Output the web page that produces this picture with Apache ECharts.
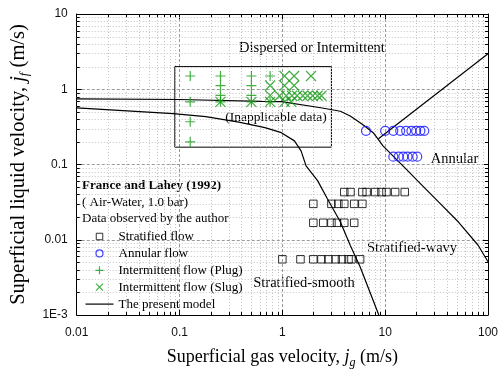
<!DOCTYPE html>
<html><head><meta charset="utf-8">
<script src="https://cdn.jsdelivr.net/npm/echarts@6/dist/echarts.min.js"></script>
<style>html,body{margin:0;padding:0;background:#fff}#c{width:501px;height:374px}</style>
</head><body><div id="c"></div>
<script>
// ---- data ----
const xTickLabels = ['0.01', '0.1', '1', '10', '100'];
const yTickLabels = ['1E-3', '0.01', '0.1', '1', '10'];

const stratX = [4, 4.6, 6, 6.6, 8, 9.2, 10.3, 12.5, 15.5,
                2, 3, 3.5, 4, 5, 6,
                2, 2.5, 3, 3.4, 4, 5,
                1, 1.5, 2, 2.4, 2.8, 3.3, 3.8, 4.4, 4.7, 5.7];
const stratY = [0.043, 0.043, 0.043, 0.043, 0.043, 0.043, 0.043, 0.043, 0.043,
                0.030, 0.030, 0.030, 0.030, 0.030, 0.030,
                0.0168, 0.0168, 0.0168, 0.0168, 0.0168, 0.0168,
                0.0055, 0.0055, 0.0055, 0.0055, 0.0055, 0.0055, 0.0055, 0.0055, 0.0055, 0.0055];

const annX = [6.5, 10, 12, 14, 16, 18, 20, 22, 24, 12, 13.5, 15, 16.5, 18.5, 20.5];
const annY = [0.28, 0.28, 0.28, 0.28, 0.28, 0.28, 0.28, 0.28, 0.28, 0.127, 0.127, 0.127, 0.127, 0.127, 0.127];

const plugX = [0.127, 0.127, 0.127, 0.127, 0.25, 0.25, 0.25, 0.25, 0.5, 0.5, 0.5, 0.5, 0.76, 0.76];
const plugY = [1.5, 0.68, 0.37, 0.2, 1.5, 1.12, 0.83, 0.68, 1.5, 1.12, 0.83, 0.68, 1.5, 0.68];

const slugX = [0.25, 0.5, 0.76, 0.76, 0.76, 1.05, 1.3, 1.9, 1.05, 1.3,
               0.94, 1.09, 1.24, 1.39, 1.58, 1.76, 1.97, 2.2, 2.4, 1.05, 1.22];
const slugY = [0.68, 0.68, 0.68, 1.12, 0.83, 1.5, 1.5, 1.5, 1.12, 1.12,
               0.82, 0.82, 0.82, 0.82, 0.82, 0.82, 0.82, 0.82, 0.82, 0.68, 0.68];

const upperX = [0.01, 0.099, 0.63, 0.977, 2.36, 3.67, 4.57, 6.13, 7.65, 8.53, 9.52, 11.9, 16, 21.4, 33.2, 51.6, 80.2, 100];
const upperY = [0.746, 0.731, 0.689, 0.683, 0.568, 0.51, 0.44, 0.335, 0.265, 0.217, 0.177, 0.130, 0.087, 0.058, 0.0316, 0.0172, 0.00845, 0.0051];

const branchX = [8.6, 100];
const branchY = [0.22, 2.96];

const lowerX = [0.01, 0.0867, 0.18, 0.377, 0.677, 0.977, 1.31, 1.52, 1.70, 2.20, 2.74, 3.67, 4.57, 5.70, 8.67];
const lowerY = [0.567, 0.473, 0.432, 0.366, 0.309, 0.265, 0.206, 0.152, 0.096, 0.061, 0.035, 0.0172, 0.00843, 0.00437, 0.001];

const boxX = [0.09, 3];
const boxY = [0.17, 2];

// ---- helpers ----
const zip = (a, b) => a.map((v, i) => [v, b[i]]);
const xDecades = [-2, -1, 0, 1];
const yDecades = [-3, -2, -1, 0];
const minorXs = [], minorYs = [];
xDecades.forEach(d => { for (let k = 2; k <= 9; k++) minorXs.push([k * Math.pow(10, d), 1]); });
yDecades.forEach(d => { for (let k = 2; k <= 9; k++) minorYs.push([1, k * Math.pow(10, d)]); });

const SERIF = '"Liberation Serif","Times New Roman",serif';
const SANS = '"Liberation Sans",Arial,sans-serif';
const green = '#169b16';
const blue = '#1010ff';

const PLUS = 'path://M0,5L10,5M5,0L5,10';
const CROSS = 'path://M0,0L10,10M10,0L0,10';

// legend icons (28x10 box, explicit bounds)
const IC_SQ = 'path://M0,0M28,10M10.75,1.75h6.5v6.5h-6.5z';
const IC_CI = 'path://M0,0M28,10M17.5,5A3.5,3.5,0,1,1,10.5,5A3.5,3.5,0,1,1,17.5,5z';
const IC_PL = 'path://M0,0M28,10M10,5h8M14,1v8';
const IC_X = 'path://M0,0M28,10M10.5,1.5L17.5,8.5M17.5,1.5L10.5,8.5';
const IC_LN = 'path://M0,0M28,10M0,5h28';

function labelFmt(arr, offset) {
  return v => { const i = Math.round(Math.log10(v)) + offset; return arr[i] || ''; };
}

const chart = echarts.init(document.getElementById('c'), null, {renderer: 'canvas'});

const crisp = v => Math.round(v) + 0.5;

function minorXItem(params, api) {
  const x = api.value(0);
  const pb = api.coord([x, 0.001]);
  const pt = api.coord([x, 10]);
  const px = crisp(pb[0]);
  return {type: 'group', children: [
    {type: 'line', shape: {x1: px, y1: pb[1], x2: px, y2: pt[1]}, style: {stroke: '#c4c4c4', lineWidth: 1, lineDash: [1, 2]}},
    {type: 'line', shape: {x1: px, y1: pb[1], x2: px, y2: pb[1] - 3}, style: {stroke: '#000', lineWidth: 1}},
    {type: 'line', shape: {x1: px, y1: pt[1], x2: px, y2: pt[1] + 3}, style: {stroke: '#000', lineWidth: 1}}
  ]};
}
function minorYItem(params, api) {
  const y = api.value(1);
  const pl = api.coord([0.01, y]);
  const pr = api.coord([100, y]);
  const py = crisp(pl[1]);
  return {type: 'group', children: [
    {type: 'line', shape: {x1: pl[0], y1: py, x2: pr[0], y2: py}, style: {stroke: '#c4c4c4', lineWidth: 1, lineDash: [1, 2]}},
    {type: 'line', shape: {x1: pl[0], y1: py, x2: pl[0] + 3, y2: py}, style: {stroke: '#000', lineWidth: 1}},
    {type: 'line', shape: {x1: pr[0], y1: py, x2: pr[0] - 3, y2: py}, style: {stroke: '#000', lineWidth: 1}}
  ]};
}

const axisCommon = {
  type: 'log', logBase: 10,
  axisLine: {show: true, onZero: false, lineStyle: {color: '#000', width: 1}},
  axisTick: {show: true, inside: true, length: 5, lineStyle: {color: '#000'}},
  minorTick: {show: false},
};

const lineStyleModel = {color: '#000', width: 1.2};

const option = {
  animation: false,
  backgroundColor: '#fff',
  grid: {left: 72, right: 11, top: 14, bottom: 57, containLabel: false},
  xAxis: [
    Object.assign({}, axisCommon, {
      min: 0.01, max: 100, position: 'bottom',
      axisLabel: {formatter: labelFmt(xTickLabels, 2), fontFamily: SANS, fontSize: 12, color: '#111', margin: 12},
      splitLine: {show: true, lineStyle: {color: '#9a9a9a', type: [3, 2], width: 1}},
      name: '{a|Superficial gas velocity, }{i|j}{s|g}{a| (m/s)}',
      nameLocation: 'middle', nameGap: 30,
      nameTextStyle: {rich: {
        a: {fontFamily: SERIF, fontSize: 18, color: '#000'},
        i: {fontFamily: SERIF, fontSize: 18, fontStyle: 'italic', color: '#000'},
        s: {fontFamily: SERIF, fontSize: 12, fontStyle: 'italic', color: '#000', padding: [12, 0, 0, 0]}
      }}
    }),
    Object.assign({}, axisCommon, {
      min: 0.01, max: 100, position: 'top',
      axisLabel: {show: false}, splitLine: {show: false}
    })
  ],
  yAxis: [
    Object.assign({}, axisCommon, {
      min: 0.001, max: 10, position: 'left',
      axisLabel: {formatter: labelFmt(yTickLabels, 3), fontFamily: SANS, fontSize: 12, color: '#111', margin: 9},
      splitLine: {show: true, lineStyle: {color: '#9a9a9a', type: [3, 2], width: 1}},
      name: '{a|Superficial liquid velocity, }{i|j}{s|f}{a| (m/s)}',
      nameLocation: 'middle', nameGap: 42, nameRotate: 90,
      nameTextStyle: {rich: {
        a: {fontFamily: SERIF, fontSize: 20.5, color: '#000'},
        i: {fontFamily: SERIF, fontSize: 20.5, fontStyle: 'italic', color: '#000'},
        s: {fontFamily: SERIF, fontSize: 13, fontStyle: 'italic', color: '#000', padding: [13, 0, 0, 0]}
      }}
    }),
    Object.assign({}, axisCommon, {
      min: 0.001, max: 10, position: 'right',
      axisLabel: {show: false}, splitLine: {show: false}
    })
  ],
  legend: {
    orient: 'vertical', left: 83, top: 229, padding: 0,
    itemWidth: 28, itemHeight: 10, itemGap: 1.9,
    textStyle: {fontFamily: SERIF, fontSize: 13, color: '#000'},
    data: [
      {name: 'Stratified flow', icon: IC_SQ, itemStyle: {color: 'none', borderColor: '#000', borderWidth: 1}},
      {name: 'Annular flow', icon: IC_CI, itemStyle: {color: 'none', borderColor: blue, borderWidth: 1.2}},
      {name: 'Intermittent flow (Plug)', icon: IC_PL, itemStyle: {color: 'none', borderColor: green, borderWidth: 1.2}},
      {name: 'Intermittent flow (Slug)', icon: IC_X, itemStyle: {color: 'none', borderColor: green, borderWidth: 1.2}},
      {name: 'The present model', icon: IC_LN, itemStyle: {color: 'none', borderColor: '#000', borderWidth: 1.2}}
    ]
  },
  graphic: [
    {type: 'text', left: 82, top: 179, style: {text: 'France and Lahey (1992)', font: 'bold 13px ' + SERIF, fill: '#000'}},
    {type: 'text', left: 82, top: 196, style: {text: '( Air-Water, 1.0 bar)', font: '13px ' + SERIF, fill: '#000'}},
    {type: 'text', left: 82, top: 212, style: {text: 'Data observed by the author', font: '13px ' + SERIF, fill: '#000'}},
    {type: 'text', x: 312, y: 48, style: {text: 'Dispersed or Intermittent', font: '14.5px ' + SERIF, fill: '#000', align: 'center', verticalAlign: 'middle'}},
    {type: 'text', x: 276, y: 117, style: {text: '(Inapplicable data)', font: '13.5px ' + SERIF, fill: '#000', align: 'center', verticalAlign: 'middle'}},
    {type: 'text', x: 454.5, y: 159, style: {text: 'Annular', font: '14.5px ' + SERIF, fill: '#000', align: 'center', verticalAlign: 'middle'}},
    {type: 'text', x: 412, y: 248, style: {text: 'Stratified-wavy', font: '14.5px ' + SERIF, fill: '#000', align: 'center', verticalAlign: 'middle'}},
    {type: 'text', x: 304, y: 283, style: {text: 'Stratified-smooth', font: '14.5px ' + SERIF, fill: '#000', align: 'center', verticalAlign: 'middle'}}
  ],
  series: [
    {type: 'custom', name: 'minorX', renderItem: minorXItem, data: minorXs, z: 1, silent: true, clip: false},
    {type: 'custom', name: 'minorY', renderItem: minorYItem, data: minorYs, z: 1, silent: true, clip: false},
    {
      type: 'line', name: 'The present model', data: zip(upperX, upperY), symbol: 'none',
      lineStyle: lineStyleModel, itemStyle: {color: '#000'}, z: 3,
      markArea: {silent: true, itemStyle: {color: 'rgba(0,0,0,0)', borderColor: '#000', borderWidth: 1},
        data: [[{coord: [boxX[0], boxY[0]]}, {coord: [boxX[1], boxY[1]]}]]}
    },
    {type: 'line', name: 'The present model', data: zip(branchX, branchY), symbol: 'none', lineStyle: lineStyleModel, itemStyle: {color: '#000'}, z: 3},
    {type: 'line', name: 'The present model', data: zip(lowerX, lowerY), symbol: 'none', lineStyle: lineStyleModel, itemStyle: {color: '#000'}, z: 3},
    {type: 'scatter', name: 'Stratified flow', data: zip(stratX, stratY), symbol: 'rect', symbolSize: 7.5,
      itemStyle: {color: 'none', borderColor: '#000', borderWidth: 1}, z: 4},
    {type: 'scatter', name: 'Annular flow', data: zip(annX, annY), symbol: 'circle', symbolSize: 9,
      itemStyle: {color: 'none', borderColor: blue, borderWidth: 1.2}, z: 4},
    {type: 'scatter', name: 'Intermittent flow (Plug)', data: zip(plugX, plugY), symbol: PLUS, symbolSize: 10,
      itemStyle: {color: 'none', borderColor: green, borderWidth: 1.2}, z: 4},
    {type: 'scatter', name: 'Intermittent flow (Slug)', data: zip(slugX, slugY), symbol: CROSS, symbolSize: 10,
      itemStyle: {color: 'none', borderColor: green, borderWidth: 1.2}, z: 4}
  ]
};
chart.setOption(option);
</script></body></html>
